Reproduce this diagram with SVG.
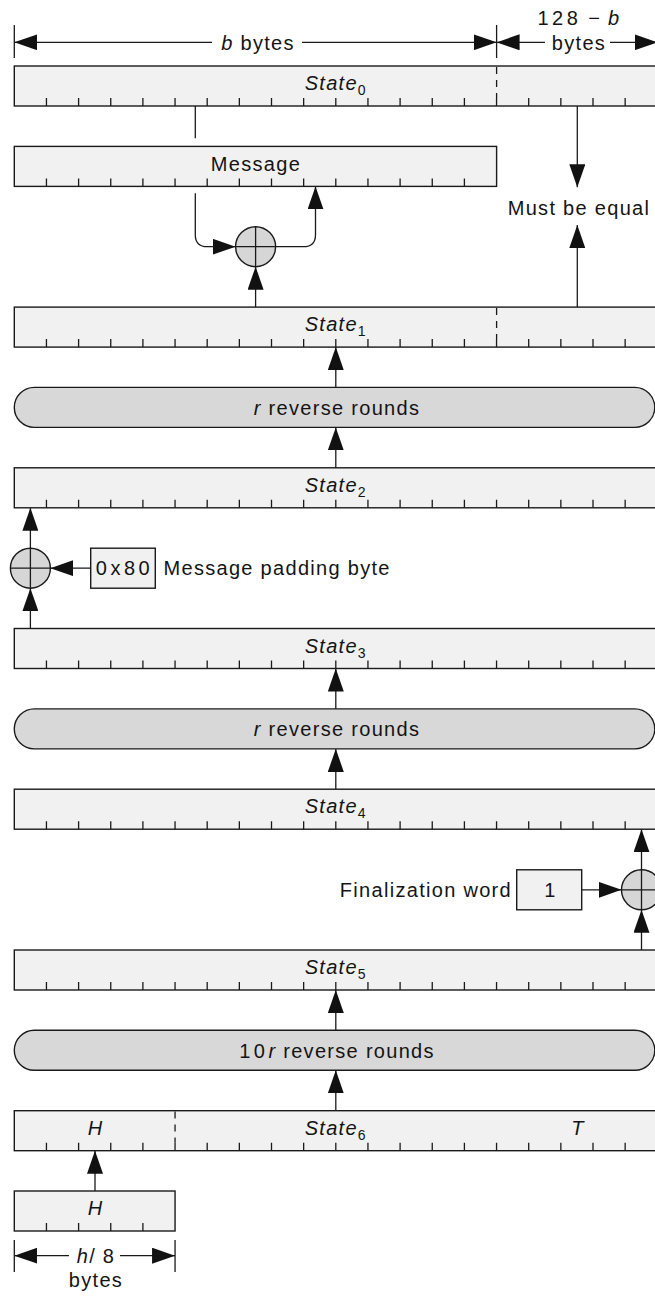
<svg xmlns="http://www.w3.org/2000/svg" width="655" height="1296" viewBox="0 0 655 1296">
  <style>
    .box { fill: #f1f1f1; stroke: #1a1a1a; stroke-width: 1.4; }
    .pill { fill: #d8d8d8; stroke: #1a1a1a; stroke-width: 1.4; }
    .xor { fill: #d6d6d6; stroke: #1a1a1a; stroke-width: 1.4; }
    .tk { fill: none; stroke: #1a1a1a; stroke-width: 1.3; }
    .dash { fill: none; stroke: #1a1a1a; stroke-width: 1.3; stroke-dasharray: 7 6; }
    .ln { fill: none; stroke: #1a1a1a; stroke-width: 1.3; }
    .arr { fill: none; stroke: #1a1a1a; stroke-width: 1.3; marker-end: url(#ah); }
    .t { font-family: "Liberation Sans", Arial, Helvetica, sans-serif; font-size: 20px; letter-spacing: 1.3px; fill: #141414; }
    .num { letter-spacing: 3.5px; }
    .it { font-style: italic; }
    .sub { font-size: 14px; font-style: normal; }
  </style>
  <defs>
    <marker id="ah" markerUnits="userSpaceOnUse" markerWidth="23" markerHeight="16" viewBox="0 0 23 16" refX="23" refY="8" orient="auto">
      <path d="M0,0L23,8L0,16z" fill="#111"/>
    </marker>
    <!-- 8-byte tick marks along the bottom edge of a register (y = 0 at the bottom edge) -->
    <path id="t19" class="tk" d="M46.45,0v-8M78.6,0v-8M110.75,0v-8M142.9,0v-8M175.05,0v-8M207.2,0v-8M239.35,0v-8M271.5,0v-8M303.65,0v-8M335.8,0v-8M367.95,0v-8M400.1,0v-8M432.25,0v-8M464.4,0v-8M496.55,0v-8M528.7,0v-8M560.85,0v-8M593,0v-8M625.15,0v-8"/>
    <path id="t14" class="tk" d="M46.45,0v-8M78.6,0v-8M110.75,0v-8M142.9,0v-8M175.05,0v-8M207.2,0v-8M239.35,0v-8M271.5,0v-8M303.65,0v-8M335.8,0v-8M367.95,0v-8M400.1,0v-8M432.25,0v-8M464.4,0v-8"/>
    <path id="t4" class="tk" d="M46.45,0v-8M78.6,0v-8M110.75,0v-8M142.9,0v-8"/>
  </defs>

  <!-- width dimensions on top -->
  <g id="dim-top">
    <path class="ln" d="M14.3,25V58M496.6,25V58"/>
    <path class="arr" d="M212,42.3H14.3"/>
    <path class="arr" d="M302,42.3H496.6"/>
    <path class="arr" d="M545,42.3H496.6"/>
    <path class="arr" d="M610,42.3H657.5"/>
    <text class="t" x="258" y="50" text-anchor="middle"><tspan class="it">b</tspan> bytes</text>
    <text class="t" x="579" y="25" text-anchor="middle"><tspan class="num">128</tspan> − <tspan class="it">b</tspan></text>
    <text class="t" x="579" y="50" text-anchor="middle">bytes</text>
  </g>

  <g id="state0">
    <rect class="box" x="14.3" y="66" width="643" height="40"/>
    <use href="#t19" y="106"/>
    <path class="dash" d="M496.6,67V98"/>
    <text class="t" x="335.8" y="90" text-anchor="middle"><tspan class="it">State</tspan><tspan class="sub" dy="5">0</tspan></text>
  </g>

  <g id="message">
    <rect class="box" x="14.3" y="146.4" width="482.3" height="40"/>
    <use href="#t14" y="186.4"/>
    <text class="t" x="256" y="171" text-anchor="middle">Message</text>
  </g>

  <g id="xor1">
    <circle class="xor" cx="255.6" cy="246.7" r="20"/>
    <path class="ln" d="M235.6,246.7H275.6M255.6,226.7V266.7"/>
  </g>

  <text id="must-be-equal" class="t" x="579" y="215" text-anchor="middle">Must be equal</text>

  <g id="state1">
    <rect class="box" x="14.3" y="307.1" width="643" height="40"/>
    <use href="#t19" y="347.1"/>
    <path class="dash" d="M496.6,308V339"/>
    <text class="t" x="335.8" y="331" text-anchor="middle"><tspan class="it">State</tspan><tspan class="sub" dy="5">1</tspan></text>
  </g>

  <g id="rounds1">
    <rect class="pill" x="14.3" y="387.4" width="640.5" height="40" rx="20"/>
    <text class="t" x="337" y="414.9" text-anchor="middle"><tspan class="it">r</tspan> reverse rounds</text>
  </g>

  <g id="state2">
    <rect class="box" x="14.3" y="467.8" width="643" height="40"/>
    <use href="#t19" y="507.8"/>
    <text class="t" x="335.8" y="491.8" text-anchor="middle"><tspan class="it">State</tspan><tspan class="sub" dy="5">2</tspan></text>
  </g>

  <g id="xor2">
    <circle class="xor" cx="30.4" cy="568.2" r="20"/>
    <path class="ln" d="M10.4,568.2H50.4M30.4,548.2V588.2"/>
  </g>

  <g id="pad-byte">
    <rect class="box" x="90.7" y="548.2" width="64.6" height="40"/>
    <text class="t num" x="124.5" y="575.3" text-anchor="middle">0x80</text>
    <text class="t" x="163.5" y="575.3">Message padding byte</text>
  </g>

  <g id="state3">
    <rect class="box" x="14.3" y="628.5" width="643" height="40"/>
    <use href="#t19" y="668.5"/>
    <text class="t" x="335.8" y="652.5" text-anchor="middle"><tspan class="it">State</tspan><tspan class="sub" dy="5">3</tspan></text>
  </g>

  <g id="rounds2">
    <rect class="pill" x="14.3" y="708.9" width="640.5" height="40" rx="20"/>
    <text class="t" x="337" y="736.4" text-anchor="middle"><tspan class="it">r</tspan> reverse rounds</text>
  </g>

  <g id="state4">
    <rect class="box" x="14.3" y="789.2" width="643" height="40"/>
    <use href="#t19" y="829.2"/>
    <text class="t" x="335.8" y="813.2" text-anchor="middle"><tspan class="it">State</tspan><tspan class="sub" dy="5">4</tspan></text>
  </g>

  <g id="final-word">
    <rect class="box" x="516.7" y="869.8" width="65" height="40"/>
    <text class="t" x="550.5" y="897" text-anchor="middle">1</text>
    <text class="t" x="512" y="897" text-anchor="end">Finalization word</text>
  </g>

  <g id="xor3">
    <circle class="xor" cx="641.5" cy="889.8" r="20"/>
    <path class="ln" d="M621.5,889.8H661.5M641.5,869.8V909.8"/>
  </g>

  <g id="state5">
    <rect class="box" x="14.3" y="950" width="643" height="40"/>
    <use href="#t19" y="990"/>
    <text class="t" x="335.8" y="974" text-anchor="middle"><tspan class="it">State</tspan><tspan class="sub" dy="5">5</tspan></text>
  </g>

  <g id="rounds3">
    <rect class="pill" x="14.3" y="1030.3" width="640.5" height="40" rx="20"/>
    <text class="t" x="337" y="1057.8" text-anchor="middle"><tspan class="num">10</tspan><tspan class="it">r</tspan> reverse rounds</text>
  </g>

  <g id="state6">
    <rect class="box" x="14.3" y="1110.7" width="643" height="40"/>
    <use href="#t19" y="1150.7"/>
    <path class="dash" d="M175.05,1111.6V1142.7"/>
    <text class="t it" x="95.5" y="1134.7" text-anchor="middle">H</text>
    <text class="t" x="335.8" y="1134.7" text-anchor="middle"><tspan class="it">State</tspan><tspan class="sub" dy="5">6</tspan></text>
    <text class="t it" x="578" y="1134.7" text-anchor="middle">T</text>
  </g>

  <g id="hash">
    <rect class="box" x="14.3" y="1191" width="160.75" height="40"/>
    <use href="#t4" y="1231"/>
    <text class="t it" x="95.5" y="1214.5" text-anchor="middle">H</text>
  </g>

  <g id="dim-bottom">
    <path class="ln" d="M14.3,1240V1272M175.05,1240V1272"/>
    <path class="arr" d="M69,1255.7H14.3"/>
    <path class="arr" d="M120,1255.7H175.05"/>
    <text class="t" x="96" y="1263.3" text-anchor="middle"><tspan class="it">h</tspan>/ 8</text>
    <text class="t" x="96" y="1286.5" text-anchor="middle">bytes</text>
  </g>

  <g id="connectors">
    <!-- message absorption -->
    <path class="ln" d="M195.3,106V138.3"/>
    <path class="arr" d="M195.3,193.3V234.7Q195.3,246.7 207.3,246.7H235.6"/>
    <path class="arr" d="M275.6,246.7H303.5Q315.5,246.7 315.5,234.7V186.4"/>
    <path class="arr" d="M255.6,307.1V266.7"/>
    <!-- capacity comparison -->
    <path class="arr" d="M577.3,106V187.3"/>
    <path class="arr" d="M577.3,307.1V225"/>
    <!-- round chains -->
    <path class="arr" d="M335.8,387.4V347.1"/>
    <path class="arr" d="M335.8,467.8V427.4"/>
    <path class="arr" d="M335.8,708.9V668.5"/>
    <path class="arr" d="M335.8,789.2V748.9"/>
    <path class="arr" d="M335.8,1030.3V990"/>
    <path class="arr" d="M335.8,1110.7V1070.3"/>
    <!-- padding byte -->
    <path class="arr" d="M30.4,628.5V588.2"/>
    <path class="arr" d="M30.4,548.2V507.8"/>
    <path class="arr" d="M90.7,568.2H50.4"/>
    <!-- finalization word -->
    <path class="arr" d="M641.5,950V909.8"/>
    <path class="arr" d="M641.5,869.8V829.2"/>
    <path class="arr" d="M581.7,889.8H621.5"/>
    <!-- hash insertion -->
    <path class="arr" d="M95,1191V1150.7"/>
  </g>
</svg>
